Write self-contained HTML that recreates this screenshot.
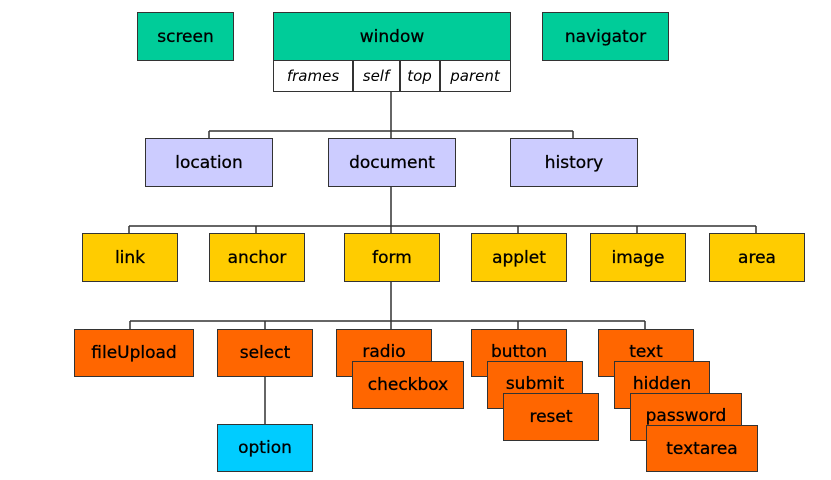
<!DOCTYPE html>
<html><head><style>
body{margin:0;width:831px;height:480px;background:#fff;position:relative;overflow:hidden;font-family:"DejaVu Sans","Liberation Sans",sans-serif;}
.b{position:absolute;box-sizing:border-box;border:1.5px solid #333;display:flex;align-items:center;justify-content:center;font-size:17px;color:#000;-webkit-text-stroke:0.3px #000;}
.g{background:#00cc99}.p{background:#ccccff}.y{background:#ffcc00}.o{background:#ff6600}.c{background:#00ccff}
.s{position:absolute;font-style:italic;font-size:15px;top:62px;height:28px;display:flex;align-items:center;justify-content:center;color:#000}
svg{position:absolute;left:0;top:0}
</style></head><body>
<svg width="831" height="480"><g stroke="#333" stroke-width="1.5" fill="none">
<path d="M391 91V138M209 131H573M209 131V138M573 131V138"/>
<path d="M391 186V233M129 226H756M129 226V233M256 226V233M391 226V233M518 226V233M637 226V233M756 226V233"/>
<path d="M391 281V329M130 321H645M130 321V329M265 321V329M518 321V329M645 321V329"/>
<path d="M265 377V424"/>
</g></svg>
<div class="b g" style="left:137px;top:12px;width:97px;height:49px">screen</div>
<div class="b g" style="left:273px;top:12px;width:238px;height:49px">window</div>
<div class="b" style="left:273px;top:60px;width:238px;height:32px;background:#fff"></div>
<div style="position:absolute;left:352px;top:60px;width:1.5px;height:32px;background:#333"></div>
<div style="position:absolute;left:399px;top:60px;width:1.5px;height:32px;background:#333"></div>
<div style="position:absolute;left:439px;top:60px;width:1.5px;height:32px;background:#333"></div>
<div class="s" style="left:274px;width:78px">frames</div>
<div class="s" style="left:353px;width:46px">self</div>
<div class="s" style="left:400px;width:39px">top</div>
<div class="s" style="left:440px;width:70px">parent</div>
<div class="b g" style="left:542px;top:12px;width:127px;height:49px">navigator</div>
<div class="b p" style="left:145px;top:138px;width:128px;height:49px">location</div>
<div class="b p" style="left:328px;top:138px;width:128px;height:49px">document</div>
<div class="b p" style="left:510px;top:138px;width:128px;height:49px">history</div>
<div class="b y" style="left:82px;top:233px;width:96px;height:49px">link</div>
<div class="b y" style="left:209px;top:233px;width:96px;height:49px">anchor</div>
<div class="b y" style="left:344px;top:233px;width:96px;height:49px">form</div>
<div class="b y" style="left:471px;top:233px;width:96px;height:49px">applet</div>
<div class="b y" style="left:590px;top:233px;width:96px;height:49px">image</div>
<div class="b y" style="left:709px;top:233px;width:96px;height:49px">area</div>
<div class="b o" style="left:74px;top:329px;width:120px;height:48px">fileUpload</div>
<div class="b o" style="left:217px;top:329px;width:96px;height:48px">select</div>
<div class="b c" style="left:217px;top:424px;width:96px;height:48px">option</div>
<div class="b o" style="left:336px;top:329px;width:96px;height:48px;align-items:flex-start;padding-top:12px">radio</div>
<div class="b o" style="left:352px;top:361px;width:112px;height:48px">checkbox</div>
<div class="b o" style="left:471px;top:329px;width:96px;height:48px;align-items:flex-start;padding-top:12px">button</div>
<div class="b o" style="left:487px;top:361px;width:96px;height:48px;align-items:flex-start;padding-top:12px">submit</div>
<div class="b o" style="left:503px;top:393px;width:96px;height:48px">reset</div>
<div class="b o" style="left:598px;top:329px;width:96px;height:48px;align-items:flex-start;padding-top:12px">text</div>
<div class="b o" style="left:614px;top:361px;width:96px;height:48px;align-items:flex-start;padding-top:12px">hidden</div>
<div class="b o" style="left:630px;top:393px;width:112px;height:48px;align-items:flex-start;padding-top:12px">password</div>
<div class="b o" style="left:646px;top:425px;width:112px;height:47px">textarea</div>
</body></html>
